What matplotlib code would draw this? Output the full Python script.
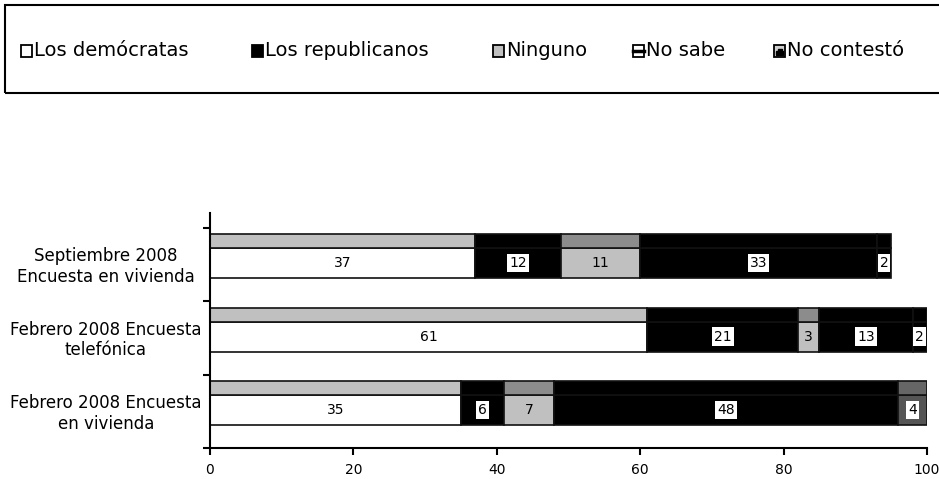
import matplotlib.pyplot as plt
from matplotlib.patches import Rectangle, Wedge
import numpy as np

# Datos (de abajo hacia arriba)
categorias = ["Febrero 2008 Encuesta\nen vivienda",
              "Febrero 2008 Encuesta\ntelefónica",
              "Septiembre 2008\nEncuesta en vivienda"]
series = ["Los demócratas", "Los republicanos", "Ninguno", "No sabe", "No contestó"]
democratas = [35, 61, 37]
republicanos = [6, 21, 12]
ninguno = [7, 3, 11]
no_sabe = [48, 13, 33]
no_contesto = [4, 2, 2]
xticks = [0, 20, 40, 60, 80, 100]

valores = [democratas, republicanos, ninguno, no_sabe, no_contesto]
# colores de cara frontal / superior por serie (y por barra)
frente = [["white"] * 3, ["black"] * 3, ["#c0c0c0"] * 3, ["black"] * 3,
          ["#555555", "black", "black"]]
techo = [["#c0c0c0"] * 3, ["black"] * 3, ["#8c8c8c"] * 3, ["black"] * 3,
         ["#666666", "black", "black"]]
con_caja = [False, True, False, True, True]

fig = plt.figure(figsize=(9.39, 4.79), dpi=100)
ax = fig.add_axes([210 / 939, 1 - 448 / 479, 717 / 939, 235 / 479])

y = np.arange(len(categorias))
izq = np.zeros(len(categorias))
for vals, fc, tc, caja in zip(valores, frente, techo, con_caja):
    vals = np.array(vals, dtype=float)
    ax.barh(y + 0.315, vals, left=izq, height=0.41, align="edge",
            color=fc, edgecolor="#111111", linewidth=1.2)
    ax.barh(y + 0.725, vals, left=izq, height=0.19, align="edge",
            color=tc, edgecolor="#111111", linewidth=1.2)
    for yi, l, v in zip(y, izq, vals):
        txt = "%d" % v
        if caja:
            ax.text(l + v / 2, yi + 0.52, txt, ha="center", va="center", fontsize=10,
                    bbox=dict(boxstyle="square,pad=0.15", fc="white", ec="none"))
        else:
            ax.text(l + v / 2, yi + 0.52, txt, ha="center", va="center", fontsize=10)
    izq += vals

ax.set_xlim(0, 100)
ax.set_ylim(0, 3.205)
ax.set_xticks(xticks)
ax.set_xticklabels([str(t) for t in xticks], fontsize=10)
ax.set_yticks([0, 1, 2, 3])
ax.set_yticklabels([])
ax.set_yticks(y + 0.52, minor=True)
ax.set_yticklabels(categorias, minor=True, fontsize=12, linespacing=1.2, ha="center")
ax.tick_params(axis="y", which="minor", length=0, pad=75)
ax.tick_params(axis="both", which="major", length=5, width=1.5, direction="out")
ax.tick_params(axis="x", pad=6)
for s in ["top", "right"]:
    ax.spines[s].set_visible(False)
for s in ["left", "bottom"]:
    ax.spines[s].set_linewidth(1.5)

# Leyenda con marco, dibujada a mano
fig.patches.append(Rectangle((5 / 939, 1 - 93 / 479), 1.0, 88 / 479, transform=fig.transFigure,
                             fill=False, edgecolor="black", linewidth=1.5))
pos_x = [21, 252, 493, 633, 774]
color_ley = ["white", "black", "#c0c0c0", "white", "#d0d0d0"]
yc = 1 - 51 / 479
lado = 11
for i, (px, nombre, col) in enumerate(zip(pos_x, series, color_ley)):
    x0 = px / 939
    y0 = yc - lado / 2 / 479
    fig.patches.append(Rectangle((x0, y0), lado / 939, lado / 479, transform=fig.transFigure,
                                 facecolor=col, edgecolor="black", linewidth=1.3))
    if nombre == "No sabe":
        fig.lines.append(plt.Line2D([x0, x0 + lado / 939], [yc, yc], transform=fig.transFigure,
                                    color="black", linewidth=2.5))
    if nombre == "No contestó":
        fig.patches.append(Rectangle((x0 + 2 / 939, y0 + 1.5 / 479), 7 / 939, 4 / 479,
                                     transform=fig.transFigure, color="black"))
        fig.patches.append(Rectangle((x0 + 3.5 / 939, y0 + 5 / 479), 4 / 939, 3 / 479,
                                     transform=fig.transFigure, color="black"))
    fig.text((px + lado + 2) / 939, yc, nombre, fontsize=14, ha="left", va="center")

fig.savefig("out.png", dpi=100)
